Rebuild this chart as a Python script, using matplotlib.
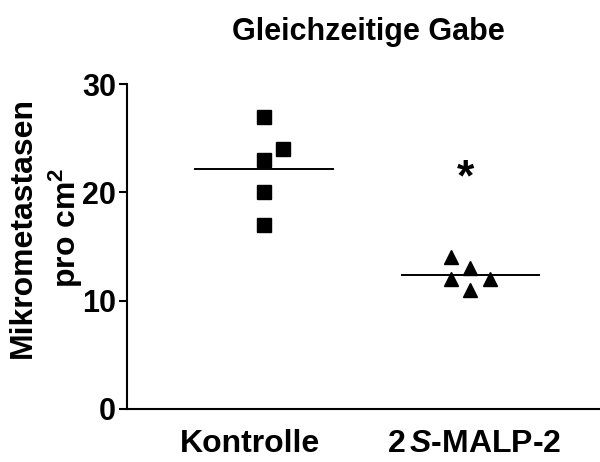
import numpy as np
import matplotlib
matplotlib.use("Agg")
import matplotlib.pyplot as plt

plt.rcParams["font.family"] = ["Liberation Sans", "DejaVu Sans"]
plt.rcParams["font.weight"] = "bold"
plt.rcParams["mathtext.fontset"] = "custom"
plt.rcParams["mathtext.rm"] = "Liberation Sans:bold"
plt.rcParams["mathtext.bf"] = "Liberation Sans:bold"
plt.rcParams["mathtext.it"] = "Liberation Sans:italic:bold"

# data
groups = ["Kontrolle", r"2$\,\mathit{S}$-MALP-2"]
kontrolle = [27, 24, 23, 20, 17]
malp = [14, 13, 12, 12, 11]
title = "Gleichzeitige Gabe"
ylabel = "Mikrometastasen\npro cm$^2$"
yticks = [0, 10, 20, 30]

# horizontal spread of points within a group (layout only)
kontrolle_dx = [0, 0.092, 0, 0, 0]
malp_dx = [-0.095, 0, -0.095, 0.095, 0]
label_dx = [-0.068, 0.017]
markers = ["s", "^"]

fig = plt.figure(figsize=(6, 4.62), dpi=100)
ax = fig.add_axes([127 / 600, 1 - 409 / 462, 1 - 127 / 600, (409 - 84) / 462])

for i, (vals, dx, m) in enumerate(zip([kontrolle, malp], [kontrolle_dx, malp_dx], markers)):
    xs = i + np.array(dx)
    ax.plot(xs, vals, ls="none", marker=m, ms=9.6, color="black", clip_on=False)
    mean = np.mean(vals)
    ax.plot([i - 0.334, i + 0.334], [mean, mean], color="black", lw=1.4)

ax.text(0.976, 21.2, "*", ha="center", va="center", fontsize=32, fontweight="bold")

ax.set_xlim(-0.663, 1.627)
ax.set_ylim(0, 30)
ax.set_yticks(yticks)
ax.set_xticks([])
for i, (g, dx) in enumerate(zip(groups, label_dx)):
    ax.text(i + dx, -0.06, g, transform=ax.get_xaxis_transform(), ha="center", va="top",
            fontsize=23, fontweight="bold")
ax.tick_params(axis="y", length=6, width=1.5, pad=2, labelsize=22)
for s in ["top", "right"]:
    ax.spines[s].set_visible(False)
for s in ["left", "bottom"]:
    ax.spines[s].set_linewidth(1.5)

fig.text(46 / 600, 1 - 228 / 462, ylabel, rotation=90, ha="center", va="center",
         multialignment="center", fontsize=23, fontweight="bold", linespacing=1.3)
fig.text(368 / 600, 1 - 32 / 462, title, ha="center", va="center",
         fontsize=22, fontweight="bold")

fig.savefig("out.png", dpi=100)
